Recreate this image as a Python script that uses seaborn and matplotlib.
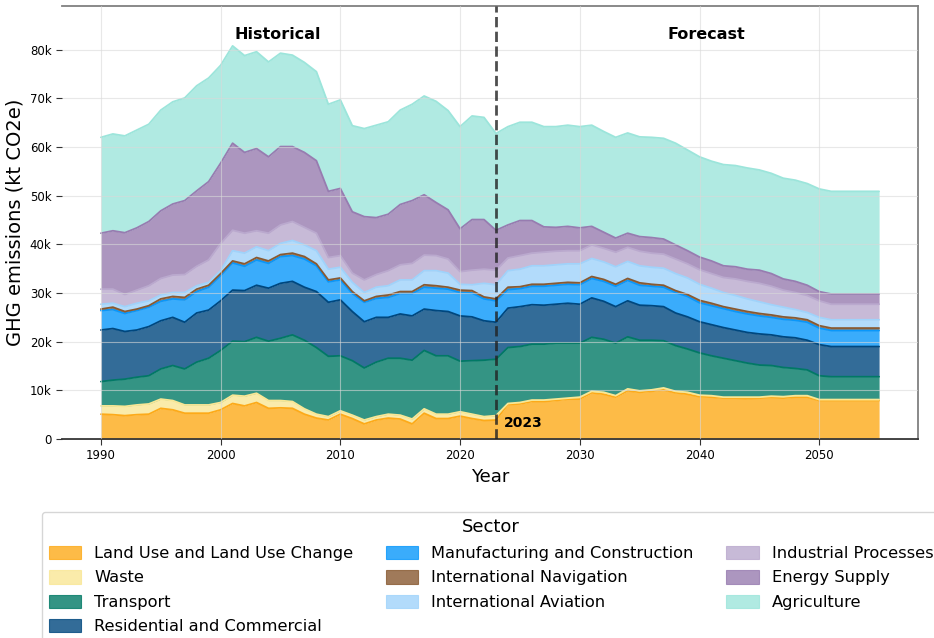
import numpy as np
import pandas as pd
import matplotlib
matplotlib.use("Agg")
import matplotlib.pyplot as plt
from matplotlib.patches import Patch
from matplotlib.ticker import FuncFormatter
import seaborn as sns

# GHG emissions by sector, thousand kt CO2e, 1990-2055 (2024+ is forecast)
years = list(range(1990, 2056))

land_use = [5.1, 5.0, 4.8, 5.0, 5.1, 6.3, 6.0, 5.3, 5.3, 5.3,
            6.0, 7.3, 6.8, 7.5, 6.3, 6.4, 6.3, 5.1, 4.3, 3.9,
            5.1, 4.2, 3.1, 3.9, 4.3, 4.1, 3.1, 5.3, 4.2, 4.2,
            4.7, 4.2, 3.8, 3.9, 7.1, 7.2, 7.7, 7.7, 7.9, 8.2,
            8.2, 9.5, 9.2, 8.6, 9.9, 9.6, 9.8, 10.1, 9.5, 9.2,
            8.7, 8.6, 8.4, 8.4, 8.3, 8.4, 8.5, 8.4, 8.6, 8.6,
            7.9, 7.9, 7.9, 7.9, 7.9, 7.9]
waste = [1.7, 1.8, 1.9, 2.0, 2.1, 1.9, 1.9, 1.7, 1.7, 1.7,
         1.5, 1.7, 2.0, 1.9, 1.6, 1.5, 1.4, 1.1, 0.8, 0.7,
         0.7, 0.7, 0.8, 0.7, 0.8, 0.8, 1.0, 0.9, 0.9, 0.9,
         0.9, 0.9, 0.8, 0.9, 0.2, 0.3, 0.3, 0.3, 0.3, 0.2,
         0.4, 0.3, 0.4, 0.3, 0.4, 0.3, 0.3, 0.4, 0.3, 0.4,
         0.3, 0.3, 0.2, 0.2, 0.3, 0.2, 0.3, 0.3, 0.3, 0.3,
         0.2, 0.2, 0.2, 0.2, 0.2, 0.2]
transport = [5.0, 5.3, 5.6, 5.7, 5.8, 6.2, 7.2, 7.4, 8.8, 9.6,
             10.7, 11.1, 11.2, 11.5, 12.2, 12.8, 13.7, 14.1, 13.7, 12.4,
             11.3, 11.2, 10.7, 11.2, 11.5, 11.7, 12.1, 12.0, 12.0, 12.0,
             10.4, 11.0, 11.6, 11.6, 11.5, 11.5, 11.5, 11.5, 11.5, 11.3,
             11.1, 11.1, 10.9, 10.8, 10.7, 10.4, 10.2, 9.7, 9.4, 8.9,
             8.7, 8.2, 8.0, 7.5, 7.0, 6.6, 6.3, 6.0, 5.6, 5.3,
             4.9, 4.7, 4.7, 4.7, 4.7, 4.7]
residential = [10.6, 10.6, 9.8, 9.7, 10.1, 9.9, 9.9, 9.6, 10.1, 9.9,
               10.2, 10.5, 10.5, 10.7, 10.9, 11.3, 11.0, 10.9, 11.5, 11.1,
               11.5, 10.1, 9.5, 9.2, 8.4, 9.1, 9.1, 8.5, 9.3, 9.1,
               9.3, 9.0, 8.1, 7.6, 8.1, 8.2, 8.1, 8.0, 8.0, 8.2,
               8.0, 8.1, 7.8, 7.5, 7.4, 7.2, 7.1, 7.0, 6.7, 6.6,
               6.4, 6.4, 6.3, 6.3, 6.3, 6.4, 6.3, 6.3, 6.3, 6.1,
               6.4, 6.2, 6.2, 6.2, 6.2, 6.2]
manufacturing = [4.0, 3.9, 3.7, 4.0, 4.0, 4.0, 3.8, 4.6, 4.4, 4.7,
                 5.2, 5.6, 5.0, 5.2, 5.1, 5.5, 5.3, 5.8, 5.3, 4.2,
                 4.1, 3.7, 4.0, 3.9, 4.1, 4.2, 4.6, 4.5, 4.6, 4.6,
                 4.8, 4.9, 4.5, 4.4, 3.8, 3.7, 3.8, 3.9, 3.9, 3.9,
                 4.0, 4.0, 4.1, 4.2, 4.2, 4.1, 4.0, 4.0, 4.2, 4.2,
                 3.9, 3.9, 3.9, 3.8, 3.8, 3.7, 3.6, 3.6, 3.6, 3.7,
                 3.4, 3.3, 3.3, 3.3, 3.3, 3.3]
navigation = [0.3, 0.5, 0.4, 0.3, 0.3, 0.5, 0.5, 0.5, 0.5, 0.4,
              0.4, 0.4, 0.5, 0.5, 0.5, 0.4, 0.5, 0.5, 0.4, 0.4,
              0.4, 0.4, 0.3, 0.4, 0.5, 0.4, 0.4, 0.5, 0.5, 0.4,
              0.5, 0.5, 0.4, 0.4, 0.5, 0.4, 0.4, 0.4, 0.4, 0.4,
              0.4, 0.4, 0.4, 0.4, 0.4, 0.5, 0.4, 0.4, 0.4, 0.4,
              0.5, 0.5, 0.4, 0.5, 0.5, 0.5, 0.5, 0.5, 0.5, 0.5,
              0.5, 0.5, 0.5, 0.5, 0.5, 0.5]
aviation = [1.0, 0.8, 1.0, 1.2, 1.0, 0.8, 0.8, 1.0, 0.7, 0.6,
            0.6, 2.1, 2.2, 2.2, 2.1, 2.3, 2.6, 2.4, 2.7, 2.2,
            2.2, 1.9, 1.7, 1.9, 1.9, 2.4, 2.4, 2.9, 3.1, 2.9,
            1.2, 1.2, 2.8, 2.9, 3.4, 3.6, 3.8, 3.8, 3.8, 3.8,
            3.9, 3.7, 3.6, 3.6, 3.5, 3.5, 3.5, 3.5, 3.5, 3.4,
            3.3, 3.1, 2.9, 2.8, 2.6, 2.4, 2.1, 2.0, 1.7, 1.5,
            1.7, 1.7, 1.7, 1.7, 1.7, 1.7]
industrial = [3.1, 2.9, 2.5, 2.7, 3.1, 3.4, 3.6, 3.7, 4.0, 4.6,
              5.6, 4.2, 4.1, 3.3, 3.6, 3.8, 3.9, 3.6, 3.6, 2.4,
              2.4, 1.9, 2.6, 2.6, 3.1, 3.1, 3.4, 3.2, 3.1, 2.9,
              2.6, 3.0, 2.9, 3.0, 2.6, 2.8, 2.6, 2.8, 2.8, 2.7,
              2.7, 2.8, 2.8, 3.0, 2.9, 3.0, 2.9, 2.9, 3.0, 2.9,
              3.0, 3.0, 3.1, 3.4, 3.6, 3.8, 3.8, 3.5, 3.5, 3.5,
              3.4, 3.2, 3.2, 3.2, 3.2, 3.2]
energy_supply = [11.5, 12.0, 12.7, 12.8, 13.2, 13.9, 14.6, 15.2, 15.5, 16.1,
                 16.5, 17.9, 16.6, 16.9, 15.7, 16.1, 15.4, 15.4, 14.9, 13.6,
                 13.8, 12.6, 13.0, 11.7, 11.6, 12.4, 12.9, 12.4, 10.9, 10.1,
                 8.8, 10.4, 10.2, 8.2, 6.8, 7.2, 6.7, 5.2, 4.9, 5.0,
                 4.7, 3.8, 3.3, 2.9, 2.9, 3.0, 3.2, 3.1, 2.9, 2.7,
                 2.6, 2.6, 2.4, 2.5, 2.5, 2.7, 2.6, 2.3, 2.3, 2.1,
                 1.9, 2.1, 2.1, 2.1, 2.1, 2.1]
agriculture = [19.7, 19.9, 19.9, 20.1, 20.0, 20.7, 21.0, 21.1, 21.6, 21.3,
               20.1, 20.0, 19.9, 19.9, 19.5, 19.2, 18.8, 18.5, 18.3, 17.9,
               18.2, 17.7, 18.1, 19.0, 19.0, 19.4, 19.8, 20.3, 20.8, 20.4,
               21.0, 21.3, 21.0, 19.9, 20.2, 20.2, 20.2, 20.6, 20.7, 20.8,
               20.8, 20.8, 20.7, 20.7, 20.6, 20.5, 20.6, 20.7, 20.9, 20.7,
               20.6, 20.5, 20.8, 20.8, 20.8, 20.6, 20.6, 20.7, 20.8, 20.9,
               21.1, 21.1, 21.1, 21.1, 21.1, 21.1]

sectors = ["Land Use and Land Use Change", "Waste", "Transport",
           "Residential and Commercial", "Manufacturing and Construction",
           "International Navigation", "International Aviation",
           "Industrial Processes", "Energy Supply", "Agriculture"]
colors = ["#FDAA19", "#F9E795", "#017965", "#00477E", "#0997FB",
          "#885931", "#9FD3FB", "#BAA9CE", "#977CB0", "#9CE5DB"]
forecast_start = 2023


def main():
    sns.set_style("white")
    plt.rcParams["font.family"] = ["DejaVu Sans"]
    plt.rcParams["text.color"] = "black"
    plt.rcParams["axes.labelcolor"] = "black"
    plt.rcParams["xtick.color"] = "black"
    plt.rcParams["ytick.color"] = "black"

    df = pd.DataFrame({
        sectors[0]: land_use, sectors[1]: waste, sectors[2]: transport,
        sectors[3]: residential, sectors[4]: manufacturing,
        sectors[5]: navigation, sectors[6]: aviation,
        sectors[7]: industrial, sectors[8]: energy_supply,
        sectors[9]: agriculture,
    }, index=years) * 1000
    cum = df.cumsum(axis=1)

    fig = plt.figure(figsize=(9.34, 6.38), dpi=100)
    ax = fig.add_axes([62 / 934, 1 - 439 / 638, 856 / 934, 433 / 638])

    base = np.zeros(len(years))
    handles = []
    for name, col in zip(sectors, colors):
        top = cum[name].to_numpy()
        ax.fill_between(years, base, top, color=col, alpha=0.8, lw=0, zorder=1)
        sns.lineplot(x=years, y=top, color=col, lw=1.3, ax=ax, zorder=2)
        handles.append(Patch(facecolor=col, edgecolor=col, alpha=0.8, lw=0.8, label=name))
        base = top

    ax.axvline(forecast_start, color="#222222", ls="--", lw=2, alpha=0.8, zorder=4)
    ax.text(forecast_start + 0.7, 3300, str(forecast_start), fontsize=10,
            fontweight="bold", ha="left", va="center", zorder=5)
    ax.text(2004.8, 83100, "Historical", fontsize=11.5, fontweight="bold",
            ha="center", va="center")
    ax.text(2040.6, 83100, "Forecast", fontsize=11.5, fontweight="bold",
            ha="center", va="center")

    ax.set_xlim(1986.75, 2058.25)
    ax.set_ylim(0, 89000)
    ax.set_xticks(range(1990, 2051, 10))
    ax.set_yticks(range(0, 80001, 10000))
    ax.yaxis.set_major_formatter(FuncFormatter(
        lambda v, p: "0" if v == 0 else f"{int(v / 1000)}k"))
    ax.tick_params(axis="both", labelsize=8.5, length=4, width=0.8,
                   color="#333333", bottom=True, left=True)

    ax.set_axisbelow(False)
    ax.grid(True, color="#d9d9d9", lw=0.8, alpha=0.6, zorder=3)

    ax.spines["left"].set_visible(False)
    for s in ["top", "right"]:
        ax.spines[s].set_color("#808080")
        ax.spines[s].set_linewidth(1.3)
    ax.spines["bottom"].set_color("#333333")
    ax.spines["bottom"].set_linewidth(1.3)

    ax.set_xlabel("Year", fontsize=13)
    ax.set_ylabel("GHG emissions (kt CO2e)", fontsize=14)

    fig.legend(handles=handles, loc="upper left", bbox_to_anchor=(42 / 934, 1 - 512 / 638),
               ncol=3, fontsize=11.7, title="Sector", title_fontsize=13,
               labelspacing=0.56, columnspacing=2.0, handleheight=0.9,
               frameon=True, borderaxespad=0, edgecolor="#cccccc", fancybox=True)

    fig.savefig("out.png", dpi=100)


if __name__ == "__main__":
    main()
